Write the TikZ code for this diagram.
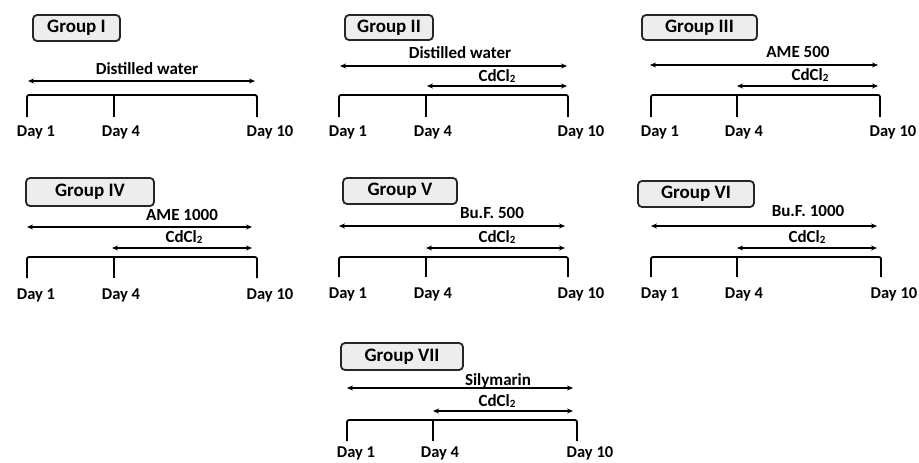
\documentclass[tikz,border=0pt]{standalone}
\usepackage{fontspec}
\setmainfont{Carlito}
\usetikzlibrary{arrows.meta}
\tikzset{
  grpbox/.style={draw=black!85, line width=1.8pt, rounded corners=4pt, fill=black!7,
    inner sep=0pt, font=\fontsize{19}{22}\selectfont\bfseries},
  spanlab/.style={font=\fontsize{17}{20}\selectfont\bfseries, inner sep=0pt},
  daylab/.style={font=\fontsize{16.5}{19}\selectfont\bfseries, inner sep=0pt},
  biarrow/.style={line width=1.3pt, {Stealth[length=6pt,width=5pt]}-{Stealth[length=6pt,width=5pt]}},
  tline/.style={line width=1.8pt, rounded corners=2pt},
}
\newcommand\cdcl{CdCl\raisebox{-0.5pt}{\fontsize{11}{11}\selectfont 2}}
% #1 prefix, #2 x1, #3 x4, #4 x10, #5 ytop, #6 ybot, #7 ylab
\newcommand\timeline[7]{%
  \coordinate (#1t1) at (#2,#5);
  \coordinate (#1b1) at (#2,#6);
  \coordinate (#1t4) at (#3,#5);
  \coordinate (#1b4) at (#3,#6);
  \coordinate (#1t10) at (#4,#5);
  \coordinate (#1b10) at (#4,#6);
  \draw[tline] (#1b1) -- (#1t1) -- (#1t10) -- (#1b10);
  \draw[tline] (#1t4) -- (#1b4);
  \node[daylab] (#1d1) at (#2+9,#7) {Day 1};
  \node[daylab] (#1d4) at (#3+7,#7) {Day 4};
  \node[daylab] (#1d10) at (#4+13,#7) {Day 10};
}
% #1 name, #2 y, #3 xs, #4 xe
\newcommand\treatspan[4]{%
  \coordinate (#1s) at (#3,#2);
  \coordinate (#1e) at (#4,#2);
  \draw[biarrow] (#1s) -- (#1e);
}
\begin{document}
\begin{tikzpicture}[x=1pt,y=-1pt]
\useasboundingbox (0,0) rectangle (919,463);
% Group I
\node[grpbox, minimum width=87pt, minimum height=26pt] (gI) at (76.5,28) {Group I};
\node[spanlab] (IlabA) at (147,69) {Distilled water};
\treatspan{IA}{81}{28}{255}
\timeline{I}{27}{114}{257}{95}{117}{132}
% Group II
\node[grpbox, minimum width=88pt, minimum height=25pt] (gII) at (389,27.5) {Group II};
\node[spanlab] (IIlabA) at (460,53) {Distilled water};
\treatspan{IIA}{66}{340}{567}
\node[spanlab] (IIlabB) at (497,76) {\cdcl};
\treatspan{IIB}{86}{427}{567}
\timeline{II}{339}{426}{568}{95}{117}{132}
% Group III
\node[grpbox, minimum width=115pt, minimum height=25pt] (gIII) at (699.5,27.5) {Group III};
\node[spanlab] (IIIlabA) at (798,52) {AME 500};
\treatspan{IIIA}{65}{650}{878}
\node[spanlab] (IIIlabB) at (810,75) {\cdcl};
\treatspan{IIIB}{86}{737}{878}
\timeline{III}{651}{737}{880}{95}{117}{132}
% Group IV
\node[grpbox, minimum width=128pt, minimum height=28pt] (gIV) at (90,192) {Group IV};
\node[spanlab] (IVlabA) at (182,215) {AME 1000};
\treatspan{IVA}{227}{27}{252}
\node[spanlab] (IVlabB) at (184,237) {\cdcl};
\treatspan{IVB}{248}{112}{252}
\timeline{IV}{27}{114}{257}{257}{278}{295}
% Group V
\node[grpbox, minimum width=114pt, minimum height=26pt] (gV) at (400,191) {Group V};
\node[spanlab] (VlabA) at (492,213) {Bu.F. 500};
\treatspan{VA}{226}{339}{565}
\node[spanlab] (VlabB) at (497,237) {\cdcl};
\treatspan{VB}{248}{426}{565}
\timeline{V}{339}{426}{568}{257}{277}{294}
% Group VI
\node[grpbox, minimum width=116pt, minimum height=26pt] (gVI) at (696,194) {Group VI};
\node[spanlab] (VIlabA) at (808,211) {Bu.F. 1000};
\treatspan{VIA}{226}{651}{877}
\node[spanlab] (VIlabB) at (807,237) {\cdcl};
\treatspan{VIB}{248}{737}{877}
\timeline{VI}{651}{737}{881}{257}{277}{294}
% Group VII
\node[grpbox, minimum width=122pt, minimum height=27pt] (gVII) at (402,356.5) {Group VII};
\node[spanlab] (VIIlabA) at (498,381) {Silymarin};
\treatspan{VIIA}{388}{347}{573}
\node[spanlab] (VIIlabB) at (497,401) {\cdcl};
\treatspan{VIIB}{411}{433}{573}
\timeline{VII}{347}{433}{577}{420}{441}{453}
\end{tikzpicture}
\end{document}
